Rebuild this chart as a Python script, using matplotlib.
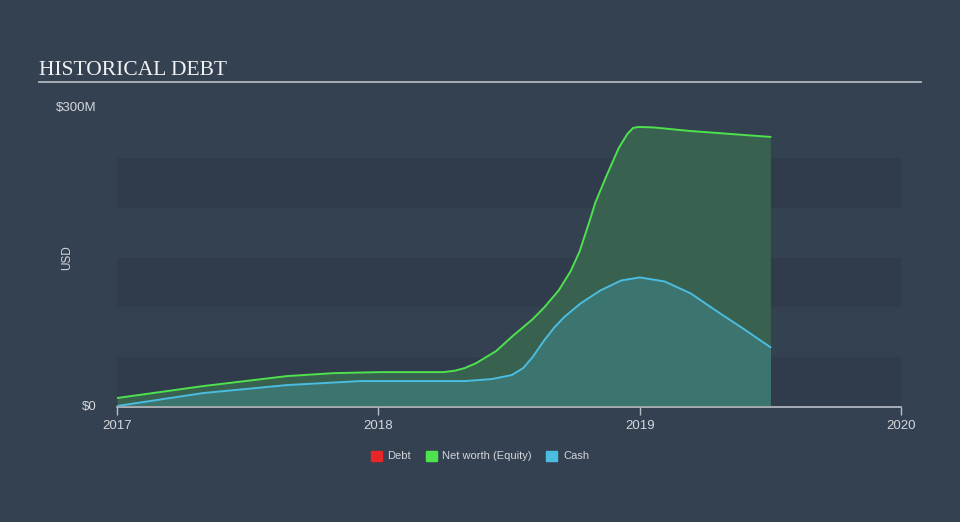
import matplotlib
matplotlib.use("Agg")
import matplotlib.pyplot as plt

# values (years, $M)
equity_x = [2017.0, 2017.33, 2017.65, 2017.83, 2018.01, 2018.25, 2018.294, 2018.33,
            2018.374, 2018.45, 2018.513, 2018.59, 2018.635, 2018.69, 2018.735, 2018.77,
            2018.81, 2018.83, 2018.873, 2018.92, 2018.953, 2018.975, 2018.995, 2019.053,
            2019.19, 2019.5]
equity_y = [9, 21, 31, 34, 35, 35, 36.5, 39, 44, 56, 71, 88, 100, 117, 136, 156,
            188, 205, 232, 260, 274, 280, 281, 280.5, 277, 271]

cash_x = [2017.0, 2017.33, 2017.65, 2017.93, 2018.33, 2018.433, 2018.51, 2018.554,
          2018.59, 2018.635, 2018.674, 2018.71, 2018.774, 2018.85, 2018.93, 2019.0,
          2019.095, 2019.195, 2019.29, 2019.394, 2019.5]
cash_y = [1, 14, 22, 26, 26, 28, 32, 39, 50, 67, 80, 90, 104, 117, 127, 130,
          126, 114, 97, 79, 60]

debt_x = [2017.0, 2019.5]
debt_y = [0.5, 0.5]

year_ticks = [2017, 2018, 2019, 2020]
year_labels = ["2017", "2018", "2019", "2020"]
legend_names = ["Debt", "Net worth (Equity)", "Cash"]

BG = "#344151"
BAND = "#303c4b"
GREEN = "#4ee24e"
BLUE = "#4bbde0"
RED = "#e8262a"
TXT = "#d3d7dc"

plt.rcParams["font.family"] = ["Liberation Sans", "DejaVu Sans"]

fig = plt.figure(figsize=(9.6, 5.22), dpi=100)
fig.patch.set_facecolor(BG)
ax = fig.add_axes([0.1219, 0.2203, 0.8167, 0.5728])
ax.set_facecolor("none")

# alternating dark bands
for lo in (0, 100, 200):
    ax.axhspan(lo, lo + 50, color=BAND, lw=0, zorder=0)

ax.fill_between(equity_x, equity_y, color="#386150", lw=0, zorder=1)
ax.fill_between(cash_x, cash_y, color="#3c756f", lw=0, zorder=2)
ax.plot(equity_x, equity_y, color=GREEN, lw=1.4, zorder=3, solid_joinstyle="round")
ax.plot(cash_x, cash_y, color=BLUE, lw=1.4, zorder=4, solid_joinstyle="round")
ax.plot(debt_x, debt_y, color="#c0604a", lw=1.0, zorder=5)

ax.set_xlim(2017, 2020)
ax.set_ylim(0, 300)
ax.set_xticks(year_ticks)
ax.set_xticklabels(year_labels)
ax.set_yticks([0, 300])
ax.set_yticklabels(["$0", "$300M"])
for s in ("top", "right", "left"):
    ax.spines[s].set_visible(False)
ax.spines["bottom"].set_color("#b8bec6")
ax.spines["bottom"].set_linewidth(1.2)
ax.tick_params(axis="x", colors="#b8bec6", labelcolor=TXT, labelsize=9.5,
               length=6, width=1, direction="out", pad=3)
ax.tick_params(axis="y", length=0, labelcolor=TXT, labelsize=9.5, pad=15)
for lbl in ax.get_yticklabels():
    lbl.set_verticalalignment("center")
ax.set_ylabel("USD", color=TXT, fontsize=8.5)
ax.yaxis.set_label_coords(-0.056, 0.5)

# title and rule
fig.text(39 / 960, 1 - 75 / 522, "HISTORICAL DEBT", family="Liberation Serif",
         fontsize=15.5, color="#f0f2f4", va="baseline")
fig.add_artist(plt.Line2D([39 / 960, 921 / 960], [1 - 82 / 522, 1 - 82 / 522],
                          color="#b0b6bd", lw=1.3))

# legend
handles = [plt.Rectangle((0, 0), 1, 1, color=c) for c in (RED, GREEN, BLUE)]
leg = fig.legend(handles, legend_names, loc="center", bbox_to_anchor=(0.5, 1 - 456 / 522),
                 ncol=3, frameon=False, fontsize=8, handlelength=1.0, handleheight=1.0,
                 handletextpad=0.5, columnspacing=1.3)
for t in leg.get_texts():
    t.set_color(TXT)

fig.savefig("out.png", dpi=100, facecolor=BG)
